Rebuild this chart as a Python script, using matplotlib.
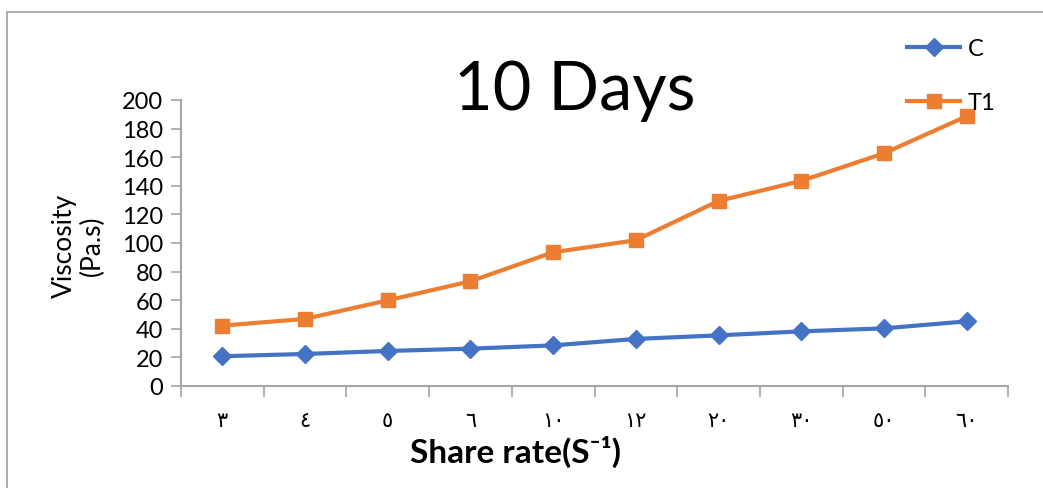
import numpy as np
import matplotlib.pyplot as plt
from matplotlib.patches import Rectangle

# shear rate categories (Arabic-Indic numerals as printed on the axis)
rates = ['٣', '٤', '٥', '٦', '١٠', '١٢', '٢٠', '٣٠', '٥٠', '٦٠']
visc_c = [20.8, 22.4, 24.5, 26.1, 28.4, 32.9, 35.4, 38.2, 40.3, 45.2]
visc_t1 = [42.2, 46.9, 59.9, 73.2, 93.5, 101.9, 129.4, 143.4, 162.7, 188.6]
yticks = np.arange(0, 201, 20)

plt.rcParams['font.family'] = ['Lato', 'DejaVu Sans']
grey = '#a6a6a6'

fig = plt.figure(figsize=(10.43, 4.89), dpi=100)
ax = fig.add_axes([0.1735, 0.2086, 0.793, 0.585])

x = np.arange(len(rates))
ax.plot(x, visc_c, color='#4472C4', lw=3, marker='D', ms=9, label='C')
ax.plot(x, visc_t1, color='#ED7D31', lw=3, marker='s', ms=9.5, label='T1')

ax.set_xlim(-0.5, len(rates) - 0.5)
ax.set_ylim(0, 200)
ax.set_yticks(yticks)
ax.set_yticklabels([str(v) for v in yticks], fontsize=17)
ax.set_xticks(np.arange(-0.5, len(rates), 1.0))
ax.set_xticklabels([])
ax.set_xticks(x, minor=True)
ax.set_xticklabels(rates, minor=True, family='DejaVu Sans', fontsize=15)
ax.tick_params(axis='x', which='minor', length=0, pad=17)
ax.tick_params(axis='x', which='major', length=8, color=grey, width=1.2)
ax.tick_params(axis='y', length=7, color=grey, width=1.2, pad=6)

for s in ['top', 'right']:
    ax.spines[s].set_visible(False)
for s in ['left', 'bottom']:
    ax.spines[s].set_color(grey)
    ax.spines[s].set_linewidth(1.5)

fig.text(515 / 1043, 0.053, 'Share rate(S⁻¹)', fontsize=24, fontweight='bold',
         ha='center', va='baseline')
fig.text(0.075, 0.498, 'Viscosity\n(Pa.s)', rotation=90, ha='center', va='center',
         fontsize=19, multialignment='center', linespacing=1.15)

fig.text(0.551, 0.775, '10 Days', fontsize=48, ha='center', va='baseline')

fig.legend(loc='upper left', bbox_to_anchor=(0.8495, 0.9636), frameon=False,
           fontsize=17, handlelength=2.25, handletextpad=0.3, labelspacing=1.39)

# outer chart frame
fig.patches.append(Rectangle((7 / 1043, -0.1), 1.2, 0.1 + 1 - 13 / 489,
                             transform=fig.transFigure, fill=False,
                             edgecolor='#a0a0a0', lw=1.2, clip_on=False))

fig.savefig('out.png', dpi=100)
